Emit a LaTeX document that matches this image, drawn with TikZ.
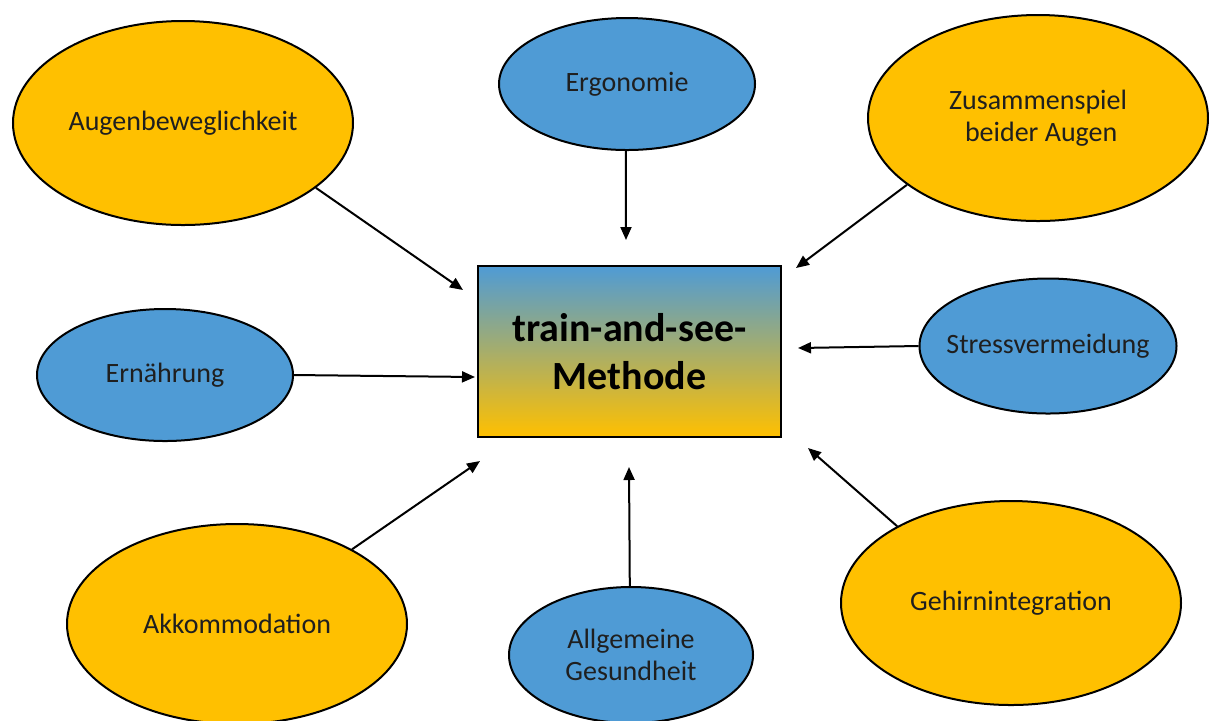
\documentclass[tikz,border=0pt]{standalone}
\usepackage{fontspec}
\setmainfont{Carlito}
\usetikzlibrary{shapes.geometric,arrows.meta}
\definecolor{gold}{RGB}{255,192,0}
\definecolor{sky}{RGB}{79,155,213}
\definecolor{haze}{RGB}{196,186,160}
\tikzset{
  topic/.style={ellipse,draw=black,line width=1pt,inner sep=0pt,
    text=black!88,font=\fontsize{14}{16}\selectfont,align=center},
  big/.style={topic,fill=gold,minimum width=170pt,minimum height=102pt},
  small/.style={topic,fill=sky,minimum width=128pt,minimum height=66pt},
  pointer/.style={line width=1pt,-{Triangle[length=6.5pt,width=5.5pt]}}
}
\begin{document}
\begin{tikzpicture}[x=0.5pt,y=-0.5pt]
      \useasboundingbox (0,0) rectangle (1209,720);
      \node[draw=black,line width=1pt,minimum width=151.5pt,minimum height=85.5pt,
        top color=sky,middle color=haze,bottom color=gold,align=center,
        font=\fontsize{20}{24}\bfseries\selectfont] (core) at (629.5,351.5)
        {train-and-see-\\Methode};
      \draw
        (183,123) node[big] (augen){Augenbeweglichkeit}
        (627,84) node[small] (ergo){Ergonomie}
        (1038,118) node[big,minimum height=103pt] (zus){Zusammenspiel\\\ beider Augen}
        (165,375) node[small] (ern){Ernährung}
        (1048,346) node[small,inner xsep=-6pt,minimum width=128.5pt,minimum height=67.5pt] (stress){Stressvermeidung}
        (237,624) node[big,minimum height=100pt] (akk){Akkommodation}
        (631,655) node[small,minimum width=122pt,minimum height=68pt] (ges){Allgemeine\\Gesundheit}
        (1011,603) node[big] (gehirn){Gehirnintegration};
      \coordinate (augenEnd) at (463,290);
      \coordinate (ergoEnd) at (626,240);
      \coordinate (zusEnd) at (796,268);
      \coordinate (ernEnd) at (475,377);
      \coordinate (stressEnd) at (798,348);
      \coordinate (akkEnd) at (480,461);
      \coordinate (gesEnd) at (629,467);
      \coordinate (gehirnEnd) at (808,448);
      \begin{scope}[pointer]
        \draw (augen.-26) to (augenEnd);
        \draw (ergo.-91) to (ergoEnd);
        \draw (zus.-153) to (zusEnd);
        \draw (ern.east) to (ernEnd);
        \draw (stress.west) to (stressEnd);
        \draw (akk.33) to (akkEnd);
        \draw (ges.91) to (gesEnd);
        \draw (gehirn.146) to (gehirnEnd);
      \end{scope}
    \end{tikzpicture}
\end{document}
